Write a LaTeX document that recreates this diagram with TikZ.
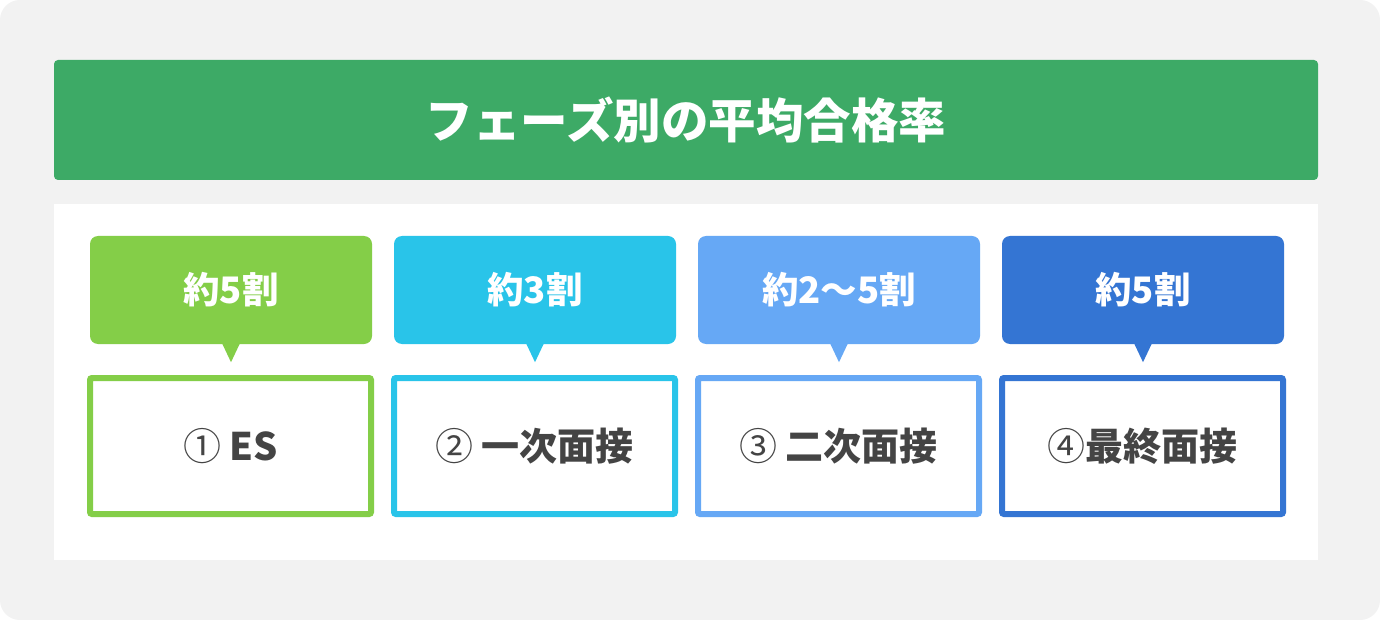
\documentclass[tikz,border=0pt]{standalone}
\usepackage{fontspec}
\newfontfamily\jpfont{Noto Sans CJK JP}
\usetikzlibrary{calc}

\definecolor{bggray}{HTML}{F2F2F2}
\definecolor{headgreen}{HTML}{3DAA66}
\definecolor{txtgray}{HTML}{444444}
\definecolor{c1}{HTML}{84CE48}
\definecolor{c2}{HTML}{29C4E9}
\definecolor{c3}{HTML}{66A8F5}
\definecolor{c4}{HTML}{3475D3}

\newcommand\circnum[1]{{\mdseries #1}}

\begin{document}
\begin{tikzpicture}[x=1pt,y=-1pt,
    head/.style={fill=headgreen, rounded corners=4pt, minimum width=1264pt, minimum height=120pt,
        text=white, font=\jpfont\bfseries\fontsize{47.5}{52}\selectfont},
    tag/.style={fill=#1, rounded corners=8pt, minimum width=282pt, minimum height=108pt, inner sep=0pt,
        text=white, font=\jpfont\bfseries\fontsize{36.5}{42}\selectfont},
    stage/.style={draw=#1, fill=white, line width=6pt, rounded corners=2pt, minimum width=281pt,
        minimum height=136pt, inner sep=0pt, text=txtgray, font=\jpfont\bfseries\fontsize{38}{44}\selectfont}]
    \useasboundingbox (0,0) rectangle (1380,620);
    \fill[white] (0,0) rectangle (1380,620);
    \fill[bggray, rounded corners=20pt] (0,0) rectangle (1380,620);

    \node[head] (title) at (686,120) {フェーズ別の平均合格率};
    \fill[white] (54,204) rectangle (1318,560);

    \foreach \i/\col/\rate/\phase in {0/c1/{約5割}/{\circnum{①} ES},1/c2/{約3割}/{\circnum{②} 一次面接},
            2/c3/{約2〜5割}/{\circnum{③} 二次面接},3/c4/{約5割}/{\circnum{④}最終面接}}{
        \node[tag=\col] (tag\i) at (231+304*\i,290) {\rate};
        \fill[\col] ($(tag\i.south)+(-9,-1)$) -- ($(tag\i.south)+(9,-1)$) -- ($(tag\i.south)+(0,18)$) -- cycle;
        \node[stage=\col] (stage\i) at (230.5+304*\i,446) {\phase};
    }

\end{tikzpicture}
\end{document}
